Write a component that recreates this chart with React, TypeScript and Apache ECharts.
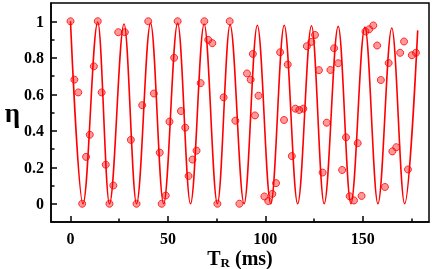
import React, { useEffect, useRef } from "react";
import * as echarts from "echarts";

// measured points (T_R in ms, eta)
const pointT = [0, 2.0, 4.0, 6.0, 8.0, 9.9, 12.0, 14.0, 16.0, 18.1, 20.0, 22.0, 24.5, 27.9, 31.0, 33.9, 36.8, 39.9, 42.8, 45.8, 46.8, 48.9, 50.8, 53.2, 55.0, 56.7, 58.9, 60.6, 62.6, 64.7, 66.8, 68.7, 70.7, 72.8, 75.4, 78.6, 81.7, 84.6, 86.7, 90.6, 92.5, 93.6, 94.7, 96.5, 99.5, 101.5, 103.6, 105.5, 107.6, 109.6, 111.5, 113.6, 115.4, 117.4, 119.5, 121.3, 123.6, 125.5, 127.5, 129.4, 131.5, 133.4, 135.3, 137.4, 139.4, 141.4, 143.3, 145.5, 147.4, 149.4, 151.4, 153.3, 155.4, 157.4, 159.3, 161.4, 163.3, 165.2, 167.2, 169.2, 171.2, 173.2, 175.2, 177.3];
const pointEta = [1.0, 0.68, 0.61, 0.0, 0.257, 0.378, 0.753, 1.0, 0.61, 0.214, 0.0, 0.10, 0.94, 0.94, 0.35, 0.0, 0.54, 1.0, 0.604, 0.28, 0.0, 0.045, 0.45, 0.80, 1.0, 0.508, 0.417, 0.152, 0.242, 0.291, 0.661, 1.0, 0.898, 0.88, 0.0, 0.583, 1.0, 0.455, 0.0, 0.714, 0.68, 0.821, 0.484, 0.592, 0.04, 0.015, 0.054, 0.113, 0.83, 0.459, 0.763, 0.261, 0.521, 0.514, 0.521, 0.863, 0.887, 0.925, 0.732, 0.171, 0.444, 0.733, 0.852, 0.77, 0.185, 0.364, 0.041, 0.018, 0.332, 0.043, 0.944, 0.956, 0.977, 0.867, 0.678, 0.092, 0.771, 0.287, 0.31, 0.827, 0.889, 0.188, 0.814, 0.827];

// fitted curve, read at its maxima / minima
const fitT = [0, 6.4, 14.0, 20.0, 27.5, 33.9, 41.1, 47.8, 55.0, 61.6, 68.6, 75.4, 81.9, 89.1, 95.9, 102.8, 109.7, 116.6, 123.7, 130.2, 137.4, 143.9, 151.1, 157.8, 164.9, 171.5, 178.2];
const fitEta = [1.0, 0, 0.995, 0, 0.985, 0, 0.99, 0, 0.99, 0, 0.985, 0, 0.98, 0, 0.978, 0, 0.978, 0, 0.975, 0, 0.972, 0, 0.968, 0, 0.963, 0, 0.95];

const xMajorTicks = [0, 50, 100, 150];
const xMinorTicks = [25, 75, 125, 175];
const yMajorTicks = [0, 0.2, 0.4, 0.6, 0.8, 1];
const yMinorTicks = [0.1, 0.3, 0.5, 0.7, 0.9];

const FONT = "'Liberation Serif', 'Times New Roman', serif";

export default function App() {
  const ref = useRef<HTMLDivElement>(null);
  useEffect(() => {
    if (!ref.current) return;
    const chart = echarts.init(ref.current, null, { renderer: "svg" });
    const black = "#000";
    const labelStyle = { fontFamily: FONT, fontWeight: "bold" as const, fontSize: 16, color: black };
    chart.setOption({
      animation: false,
      grid: {
        left: 51, right: 3, top: 3, bottom: 47,
        containLabel: false, outerBoundsMode: "none",
        show: true, borderColor: black, borderWidth: 1.5, backgroundColor: "transparent",
      },
      xAxis: [
        {
          type: "value", min: -10, max: 184, position: "bottom",
          axisLine: { show: true, onZero: false, lineStyle: { color: black, width: 1.5 } },
          axisTick: { show: true, inside: true, length: 6, customValues: xMajorTicks, lineStyle: { color: black, width: 1.5 } },
          axisLabel: { ...labelStyle, customValues: xMajorTicks, margin: 8 },
          splitLine: { show: false },
          name: "{t|T}{s|R}{t| (ms)}",
          nameLocation: "middle",
          nameMoveOverlap: false,
          nameGap: 24,
          nameTextStyle: {
            rich: {
              t: { fontFamily: FONT, fontWeight: "bold", fontSize: 20, color: black },
              s: { fontFamily: FONT, fontWeight: "bold", fontSize: 13, color: black, padding: [10, 0, 0, 0] },
            },
          },
        },
        {
          type: "value", min: -10, max: 184, position: "bottom",
          axisLine: { show: false, onZero: false },
          axisTick: { show: true, inside: true, length: 3.5, customValues: xMinorTicks, lineStyle: { color: black, width: 1.5 } },
          axisLabel: { show: false },
          splitLine: { show: false },
        },
      ],
      yAxis: [
        {
          type: "value", min: -0.1, max: 1.1, position: "left",
          axisLine: { show: true, onZero: false, lineStyle: { color: black, width: 1.5 } },
          axisTick: { show: true, inside: true, length: 6, customValues: yMajorTicks, lineStyle: { color: black, width: 1.5 } },
          axisLabel: { ...labelStyle, customValues: yMajorTicks, margin: 7 },
          splitLine: { show: false },
          name: "η",
          nameLocation: "middle",
          nameMoveOverlap: false,
          nameRotate: 0,
          nameGap: 31,
          nameTextStyle: { fontFamily: FONT, fontWeight: "bold", fontSize: 27, color: black },
        },
        {
          type: "value", min: -0.1, max: 1.1, position: "left",
          axisLine: { show: false, onZero: false },
          axisTick: { show: true, inside: true, length: 3.5, customValues: yMinorTicks, lineStyle: { color: black, width: 1.5 } },
          axisLabel: { show: false },
          splitLine: { show: false },
        },
      ],
      series: [
        {
          type: "line",
          data: fitT.map((t, i) => [t, fitEta[i]]),
          showSymbol: false,
          smooth: 0.36,
          smoothMonotone: "x",
          lineStyle: { color: "#ff0000", width: 1.6 },
          z: 2,
        },
        {
          type: "scatter",
          data: pointT.map((t, i) => [t, pointEta[i]]),
          symbol: "circle",
          symbolSize: 7,
          itemStyle: { color: "rgba(255,0,0,0.5)", borderColor: "#ff0000", borderWidth: 1 },
          z: 3,
        },
      ],
    });
    return () => chart.dispose();
  }, []);
  return <div ref={ref} style={{ position: "fixed", left: 0, top: 0, width: 432, height: 269 }} />;
}
